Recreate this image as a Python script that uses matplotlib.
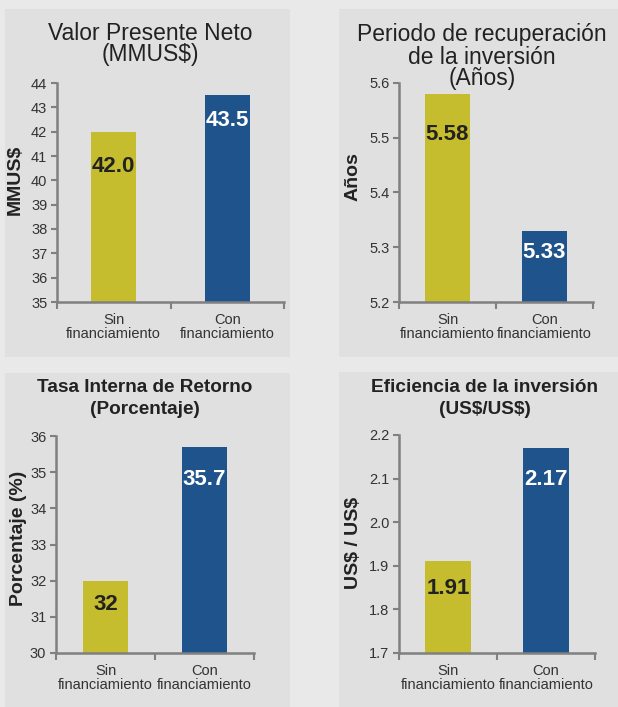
import matplotlib
matplotlib.use("Agg")
import matplotlib.pyplot as plt
from matplotlib.patches import Rectangle

plt.rcParams['font.family'] = ['Liberation Sans', 'DejaVu Sans']
plt.rcParams['text.parse_math'] = False

categories = ["Sin\nfinanciamiento", "Con\nfinanciamiento"]

van_values = [42.0, 43.5]
van_labels = ["42.0", "43.5"]
pri_values = [5.58, 5.33]
pri_labels = ["5.58", "5.33"]
tir_values = [32.0, 35.7]
tir_labels = ["32", "35.7"]
efi_values = [1.91, 2.17]
efi_labels = ["1.91", "2.17"]

van_ticks = list(range(35, 45))
pri_ticks = [5.2, 5.3, 5.4, 5.5, 5.6]
tir_ticks = list(range(30, 37))
efi_ticks = [1.7, 1.8, 1.9, 2.0, 2.1, 2.2]

YELLOW = "#c5bc2e"
BLUE = "#1f538c"
FIG_BG = "#e9e9e9"
PANEL_BG = "#e0e0e0"
AXIS_GRAY = "#808080"

W, H = 618, 707
fig = plt.figure(figsize=(W / 100, H / 100), dpi=100)
fig.patch.set_facecolor(FIG_BG)


def px_rect(x0, y0, x1, y1):
    # pixel box (top-left origin) -> figure fraction [l, b, w, h]
    return [x0 / W, 1 - y1 / H, (x1 - x0) / W, (y1 - y0) / H]


# gray panels behind each chart
for x0, y0, x1, y1 in [(5, 9, 290, 357), (339, 9, 618, 357),
                       (5, 373, 290, 707), (339, 372, 618, 707)]:
    l, b, w, h = px_rect(x0, y0, x1, y1)
    fig.patches.append(Rectangle((l, b), w, h, transform=fig.transFigure,
                                 facecolor=PANEL_BG, edgecolor="none", zorder=-5))

panels = [
    dict(box=(57, 83, 284, 302), values=van_values, labels=van_labels,
         ylim=(35, 44), ticks=van_ticks, fmt="{:.0f}", width=0.40,
         title=["Valor Presente Neto", "(MMUS$)"], title_bold=False,
         title_x=150, title_y=[33, 55],
         ylabel="MMUS$", ylabel_xy=(15, 180), offsets=[35, 25]),
    dict(box=(399, 83, 593, 302), values=pri_values, labels=pri_labels,
         ylim=(5.2, 5.6), ticks=pri_ticks, fmt="{:.1f}", width=0.46,
         title=["Periodo de recuperación", "de la inversión", "(Años)"],
         title_bold=False, title_x=482, title_y=[34, 57, 78],
         ylabel="Años", ylabel_xy=(353, 177), offsets=[41, 22]),
    dict(box=(56, 436, 254, 653), values=tir_values, labels=tir_labels,
         ylim=(30, 36), ticks=tir_ticks, fmt="{:.0f}", width=0.45,
         title=["Tasa Interna de Retorno", "(Porcentaje)"], title_bold=True,
         title_x=145, title_y=[387, 409],
         ylabel="Porcentaje (%)", ylabel_xy=(19, 538), offsets=[24, 33]),
    dict(box=(399, 435, 595, 653), values=efi_values, labels=efi_labels,
         ylim=(1.7, 2.2), ticks=efi_ticks, fmt="{:.1f}", width=0.46,
         title=["Eficiencia de la inversión", "(US$/US$)"], title_bold=True,
         title_x=485, title_y=[387, 409],
         ylabel="US$ / US$", ylabel_xy=(353, 543), offsets=[27, 31]),
]

for p in panels:
    ax = fig.add_axes(px_rect(*p["box"]))
    ax.set_facecolor("none")
    x = [0, 1]
    bars = ax.bar(x, p["values"], width=p["width"], color=[YELLOW, BLUE], zorder=2)
    ax.set_xlim(-0.5, 1.5)
    ax.set_ylim(*p["ylim"])
    ax.set_yticks(p["ticks"])
    ax.set_yticklabels([p["fmt"].format(t) for t in p["ticks"]],
                       fontsize=10.5, color="#333333")
    # category labels centered, tick marks on category boundaries
    ax.set_xticks([-0.5, 0.5, 1.5])
    ax.set_xticklabels([])
    ax.set_xticks(x, minor=True)
    ax.set_xticklabels(categories, minor=True, fontsize=10.5, color="#333333",
                       linespacing=1.0)
    ax.tick_params(axis="x", which="minor", length=0, pad=8)
    ax.tick_params(axis="x", which="major", length=5, width=1.5, color=AXIS_GRAY,
                   direction="out")
    ax.tick_params(axis="y", length=4, width=1.5, color=AXIS_GRAY, pad=3)
    for side in ["top", "right"]:
        ax.spines[side].set_visible(False)
    for side in ["left", "bottom"]:
        ax.spines[side].set_color(AXIS_GRAY)
        ax.spines[side].set_linewidth(1.8)

    # value labels inside the bars
    for bar, lab, off, col in zip(bars, p["labels"], p["offsets"], ["#222222", "white"]):
        ax.annotate(lab, (bar.get_x() + bar.get_width() / 2, bar.get_height()),
                    xytext=(0, -off * 0.72), textcoords="offset points",
                    ha="center", va="center", fontsize=16, fontweight="bold",
                    color=col)

    # title, one text per line
    for line, ty in zip(p["title"], p["title_y"]):
        if p["title_bold"]:
            fig.text(p["title_x"] / W, 1 - ty / H, line, ha="center", va="center",
                     fontsize=13.7, color="#222222", fontweight="bold")
        else:
            fig.text(p["title_x"] / W, 1 - ty / H, line, ha="center", va="center",
                     fontsize=16.5, color="#222222")
    lx, ly = p["ylabel_xy"]
    fig.text(lx / W, 1 - ly / H, p["ylabel"], rotation=90, ha="center", va="center",
             fontsize=14, fontweight="bold", color="#222222")

fig.savefig("out.png", dpi=100, facecolor=fig.get_facecolor())
